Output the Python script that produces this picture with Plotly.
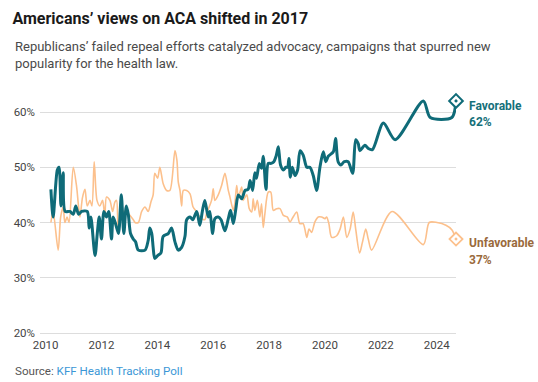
import plotly.graph_objects as go

# ---------------- data ----------------
fav_dates = [2010.19, 2010.27, 2010.42, 2010.48, 2010.55, 2010.63, 2010.70, 2010.87, 2010.99,
             2011.08, 2011.18, 2011.29, 2011.49, 2011.56, 2011.62, 2011.77, 2011.85, 2011.92,
             2012.00, 2012.09, 2012.18, 2012.26, 2012.36, 2012.42, 2012.52, 2012.61, 2012.71,
             2012.80, 2012.89, 2012.96, 2013.04, 2013.14, 2013.22, 2013.32, 2013.56, 2013.67,
             2013.73, 2013.80, 2013.85, 2013.91, 2014.01, 2014.13, 2014.21, 2014.39, 2014.51,
             2014.63, 2014.75, 2014.87, 2014.99, 2015.05, 2015.17, 2015.27, 2015.41, 2015.52,
             2015.61, 2015.70, 2015.82, 2015.88, 2015.98, 2016.06, 2016.18, 2016.28, 2016.42,
             2016.54, 2016.62, 2016.72, 2016.81, 2016.90, 2017.02, 2017.14, 2017.25, 2017.32,
             2017.41, 2017.49, 2017.55, 2017.65, 2017.73, 2017.79, 2017.89, 2017.97, 2018.07,
             2018.17, 2018.25, 2018.33, 2018.41, 2018.51, 2018.60, 2018.66, 2018.71, 2018.76,
             2018.83, 2018.93, 2019.02, 2019.11, 2019.22, 2019.35, 2019.46, 2019.58, 2019.70,
             2019.82, 2019.94, 2020.03, 2020.12, 2020.30, 2020.38, 2020.47, 2020.57, 2020.69,
             2020.83, 2020.99, 2021.10, 2021.19, 2021.25, 2021.43, 2021.55, 2021.70, 2022.09,
             2022.51, 2023.52, 2023.77, 2024.54, 2024.69]
fav_values = [46, 41, 49.5, 50, 43, 49, 42, 42, 41.5,
              43, 41.5, 42, 42, 39, 41, 34, 38, 41,
              37, 42, 41, 42, 37, 41, 39.5, 38, 45,
              38, 43, 41.5, 38, 37, 36.5, 35, 35, 36.7,
              39, 38, 35.5, 33.5, 34, 34.5, 37.5, 38, 39,
              36.5, 35, 35.5, 37.5, 40.5, 41, 40.5, 42, 39.5,
              42, 44, 41, 42, 38, 40.7, 41, 40.5, 38.5,
              40.7, 42.2, 39.8, 42.5, 45, 44.3, 45.8, 46, 47.6,
              45.8, 49, 48, 50.7, 49.8, 52, 46, 50.7, 50.7,
              51, 52, 53.7, 50.4, 49.5, 50, 50, 51.6, 48.2,
              50, 48.5, 49.5, 53, 52.2, 50, 50, 48.5, 45.8,
              50, 52.8, 51, 52, 52.8, 55.2, 51, 50.4, 51,
              51, 48.9, 55, 54.3, 53, 54, 53.4, 53.2, 58,
              55, 62, 59, 59, 62]

unfav_dates = [2010.19, 2010.27, 2010.45, 2010.54, 2010.63, 2010.69, 2010.77, 2010.84, 2010.99,
               2011.11, 2011.17, 2011.23, 2011.32, 2011.41, 2011.49, 2011.59, 2011.66, 2011.74,
               2011.84, 2011.94, 2012.04, 2012.12, 2012.18, 2012.30, 2012.40, 2012.48, 2012.54,
               2012.60, 2012.72, 2012.84, 2012.96, 2013.14, 2013.20, 2013.32, 2013.44, 2013.56,
               2013.67, 2013.77, 2013.85, 2013.91, 2014.01, 2014.09, 2014.21, 2014.33, 2014.45,
               2014.63, 2014.70, 2014.75, 2014.81, 2014.87, 2014.93, 2015.05, 2015.17, 2015.28,
               2015.41, 2015.52, 2015.70, 2015.76, 2015.94, 2016.00, 2016.06, 2016.18, 2016.30,
               2016.42, 2016.54, 2016.60, 2016.72, 2016.78, 2016.84, 2016.90, 2017.02, 2017.07,
               2017.20, 2017.29, 2017.38, 2017.43, 2017.49, 2017.58, 2017.67, 2017.73, 2017.79,
               2017.85, 2017.97, 2018.06, 2018.15, 2018.27, 2018.39, 2018.51, 2018.65, 2018.75,
               2018.86, 2018.99, 2019.10, 2019.22, 2019.35, 2019.43, 2019.52, 2019.64, 2019.76,
               2019.88, 2020.00, 2020.06, 2020.14, 2020.24, 2020.42, 2020.54, 2020.66, 2020.78,
               2020.90, 2021.01, 2021.10, 2021.24, 2021.34, 2021.46, 2021.55, 2021.67, 2022.40,
               2023.52, 2023.73, 2024.01, 2024.33, 2024.54, 2024.69]
unfav_values = [40, 42, 35, 41, 42.8, 40, 41, 40, 50,
                46.5, 43.4, 41, 44.5, 46, 43, 44, 43, 51,
                44, 43, 44, 41, 44.6, 44, 42, 43.7, 44,
                39.1, 42, 42, 41.6, 40.5, 40, 40, 42, 42.8,
                42, 43.7, 45, 48.9, 48, 50, 47, 45.8, 45.8,
                53, 51.3, 47.3, 45.8, 43, 45.8, 45.8, 45.2, 42.8,
                41.9, 41, 40.5, 41.6, 44, 46.1, 44, 45, 46.7,
                48.9, 45.8, 44.6, 42.2, 43.7, 46.7, 44.6, 46.4, 44,
                45, 42.5, 41.9, 44.3, 42.2, 44, 41, 43.4, 39.1,
                41.6, 45.5, 45.5, 42.2, 42.5, 42.5, 41.3, 41, 40.1,
                41, 41.9, 39.8, 39.8, 37.3, 38.8, 38.2, 40.1, 41,
                41, 40.7, 41, 39.8, 37.3, 37.6, 38.8, 41, 37.3,
                38.8, 41.9, 38.8, 34.5, 36.4, 38.8, 37, 35, 42,
                36, 40, 40, 39.5, 38.7, 37]

x_ticks = [2010, 2012, 2014, 2016, 2018, 2020, 2022, 2024]
y_ticks = [20, 30, 40, 50, 60]
y_tick_labels = ["20%", "30%", "40%", "50%", "60%"]

TEAL = "#0f6b78"
TEAL_TXT = "#16707a"
PEACH = "#fcc08c"
BROWN = "#9a6a3c"
FONT = "Roboto"

fig = go.Figure()
fig.add_trace(go.Scatter(x=unfav_dates, y=unfav_values, mode="lines",
                         line=dict(color=PEACH, width=1.6, shape="spline", smoothing=0.8),
                         hoverinfo="skip", showlegend=False))
fig.add_trace(go.Scatter(x=fav_dates, y=fav_values, mode="lines",
                         line=dict(color=TEAL, width=3, shape="spline", smoothing=0.8),
                         hoverinfo="skip", showlegend=False))
fig.add_trace(go.Scatter(x=[unfav_dates[-1]], y=[unfav_values[-1]], mode="markers",
                         marker=dict(symbol="diamond-dot", size=10, color="white",
                                     line=dict(color=PEACH, width=1.8)),
                         cliponaxis=False, showlegend=False, hoverinfo="skip"))
fig.add_trace(go.Scatter(x=[fav_dates[-1]], y=[fav_values[-1]], mode="markers",
                         marker=dict(symbol="diamond-dot", size=10.5, color="white",
                                     line=dict(color=TEAL, width=2)),
                         cliponaxis=False, showlegend=False, hoverinfo="skip"))

ann = []
ann.append(dict(x=fav_dates[-1], y=fav_values[-1], xref="x", yref="y", text="<b>Favorable</b>",
                xanchor="left", yanchor="middle", xshift=11, yshift=-5, showarrow=False,
                font=dict(family=FONT, size=12, color=TEAL_TXT)))
ann.append(dict(x=fav_dates[-1], y=fav_values[-1], xref="x", yref="y",
                text="<b>%d%%</b>" % fav_values[-1],
                xanchor="left", yanchor="middle", xshift=11, yshift=-21, showarrow=False,
                font=dict(family=FONT, size=12, color=TEAL_TXT)))
ann.append(dict(x=unfav_dates[-1], y=unfav_values[-1], xref="x", yref="y", text="<b>Unfavorable</b>",
                xanchor="left", yanchor="middle", xshift=11, yshift=-4, showarrow=False,
                font=dict(family=FONT, size=12, color=BROWN)))
ann.append(dict(x=unfav_dates[-1], y=unfav_values[-1], xref="x", yref="y",
                text="<b>%d%%</b>" % unfav_values[-1],
                xanchor="left", yanchor="middle", xshift=11, yshift=-21, showarrow=False,
                font=dict(family=FONT, size=12, color=BROWN)))

PL, PT, PW, PH = 40, 95, 416, 241
PX_PER_PCT = 5.525
Y20_PX = 333


def px_to_paper(xp, yp):
    return (xp - PL) / PW, (PT + PH - yp) / PH


sx, sy = px_to_paper(12.5, 55.2)
ann.append(dict(x=sx, y=sy, xref="paper", yref="paper", xanchor="left", yanchor="middle",
                align="left", showarrow=False,
                text="Republicans’ failed repeal efforts catalyzed advocacy, campaigns that spurred new<br>popularity for the health law.",
                font=dict(family=FONT, size=13, color="#4a4a4a")))
sx, sy = px_to_paper(12.5, 371)
ann.append(dict(x=sx, y=sy, xref="paper", yref="paper", xanchor="left", yanchor="middle",
                showarrow=False,
                text="Source: <span style='color:#3b97d6'>KFF Health Tracking Poll</span>",
                font=dict(family=FONT, size=11.6, color="#555555")))

fig.update_layout(
    width=538, height=382,
    margin=dict(l=PL, r=538 - PL - PW, t=PT, b=382 - PT - PH),
    paper_bgcolor="white", plot_bgcolor="white",
    title=dict(text="<b>Americans’ views on ACA shifted in 2017</b>",
               x=12.5 / 538, xanchor="left", xref="container",
               y=1 - 18.3 / 382, yanchor="middle", yref="container",
               font=dict(family=FONT, size=16, color="#1a1a1a")),
    annotations=ann,
    showlegend=False,
)
fig.update_xaxes(range=[2009.8, fav_dates[-1]], tickvals=x_ticks, ticktext=[str(v) for v in x_ticks],
                 showgrid=False, zeroline=False, showline=False, ticks="",
                 tickfont=dict(family=FONT, size=11.5, color="#444444"))
fig.update_yaxes(range=[20 - (PT + PH - Y20_PX) / PX_PER_PCT, 20 + (Y20_PX - PT) / PX_PER_PCT],
                 tickvals=y_ticks, ticktext=y_tick_labels,
                 showgrid=True, gridcolor="#dddddd", gridwidth=1, zeroline=False, showline=False,
                 ticks="", ticklabelstandoff=4,
                 tickfont=dict(family=FONT, size=11.5, color="#444444"))

fig.write_html("out.html")
